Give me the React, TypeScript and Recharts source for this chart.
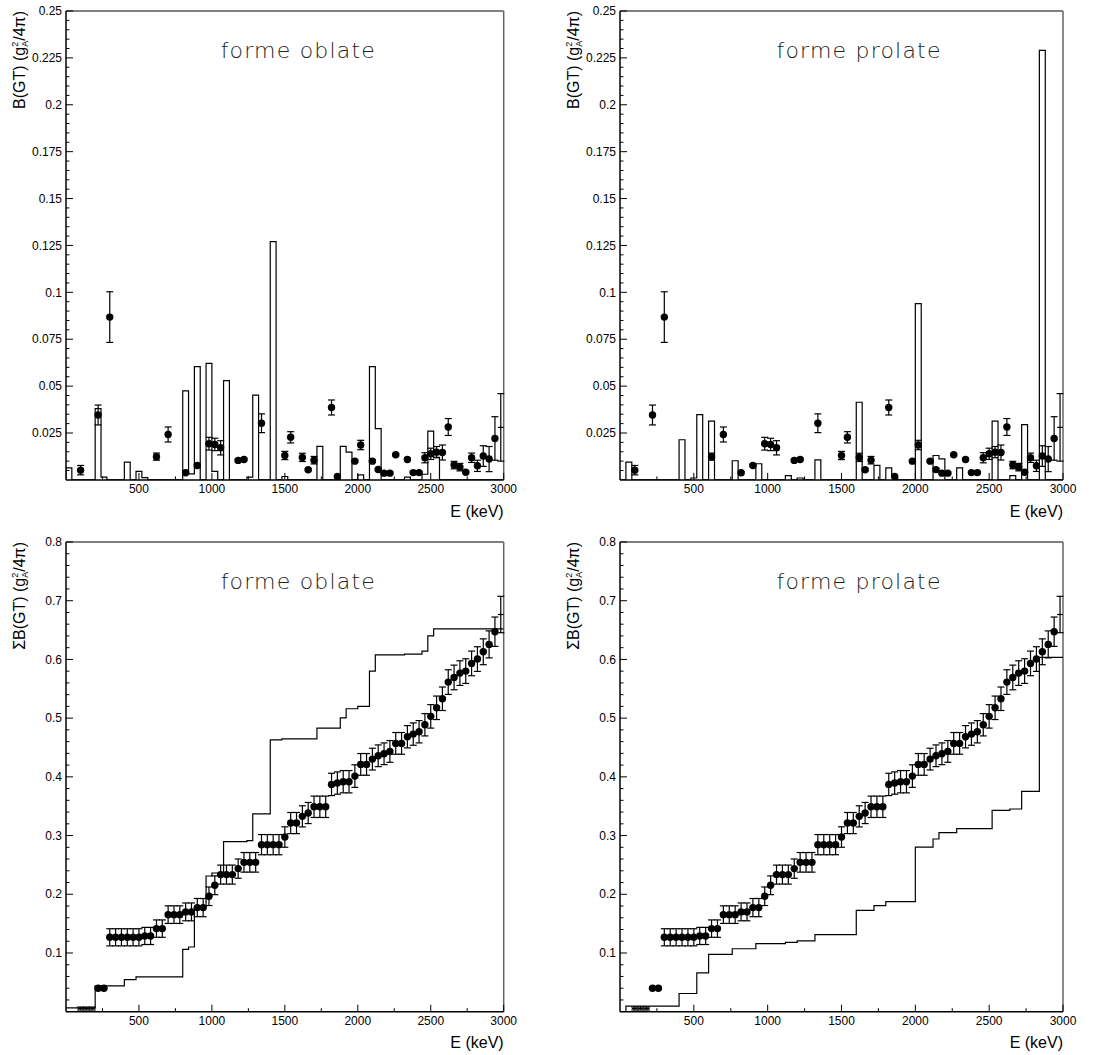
import React from "react";
import {
  ComposedChart, Line, Scatter, ErrorBar, XAxis, YAxis, ReferenceLine,
} from "recharts";

// measured B(GT), 40 keV bins, bin centre in keV
const expE = [100, 220, 300, 620, 700, 820, 900, 980, 1020, 1060, 1180, 1220, 1340, 1500, 1540, 1620, 1660, 1700, 1820, 1860, 1980, 2020, 2100, 2140, 2180, 2220, 2260, 2340, 2380, 2420, 2460, 2500, 2540, 2580, 2620, 2660, 2700, 2740, 2780, 2820, 2860, 2900, 2940, 2980];
const expB = [0.0052, 0.0346, 0.0868, 0.0124, 0.0242, 0.0038, 0.0077, 0.0193, 0.0189, 0.0171, 0.0104, 0.0109, 0.0302, 0.013, 0.0227, 0.012, 0.0054, 0.0105, 0.0386, 0.0018, 0.01, 0.0186, 0.01, 0.0055, 0.0036, 0.0036, 0.0134, 0.0109, 0.0039, 0.0039, 0.0118, 0.0139, 0.0148, 0.0146, 0.0282, 0.0079, 0.0068, 0.0041, 0.0118, 0.0075, 0.0127, 0.0111, 0.0221, 0.028];
const expErr = [0.0025, 0.0053, 0.0135, 0.0019, 0.004, 0.0005, 0.0006, 0.0034, 0.0033, 0.0038, 0.0006, 0.0006, 0.005, 0.0022, 0.003, 0.0022, 0.0006, 0.002, 0.004, 0.0005, 0.0006, 0.0025, 0.0006, 0.0006, 0.0006, 0.0006, 0.0006, 0.0006, 0.0006, 0.0006, 0.0027, 0.003, 0.003, 0.004, 0.0045, 0.002, 0.002, 0.0006, 0.0025, 0.003, 0.0055, 0.0067, 0.0116, 0.018];
const expNoMarker = [2980];

// measured running sum
const cumE = [100, 140, 180, 220, 260, 300, 340, 380, 420, 460, 500, 540, 580, 620, 660, 700, 740, 780, 820, 860, 900, 940, 980, 1020, 1060, 1100, 1140, 1180, 1220, 1260, 1300, 1340, 1380, 1420, 1460, 1500, 1540, 1580, 1620, 1660, 1700, 1740, 1780, 1820, 1860, 1900, 1940, 1980, 2020, 2060, 2100, 2140, 2180, 2220, 2260, 2300, 2340, 2380, 2420, 2460, 2500, 2540, 2580, 2620, 2660, 2700, 2740, 2780, 2820, 2860, 2900, 2940, 2980];
const cumB = [0.0054, 0.0054, 0.0054, 0.04, 0.04, 0.1267, 0.1267, 0.1267, 0.1267, 0.1267, 0.1267, 0.129, 0.129, 0.1415, 0.1415, 0.1653, 0.1653, 0.1653, 0.17, 0.17, 0.1773, 0.1773, 0.1966, 0.2153, 0.2335, 0.2335, 0.2335, 0.2437, 0.2544, 0.2544, 0.2544, 0.2845, 0.2845, 0.2845, 0.2845, 0.2975, 0.3213, 0.3213, 0.3327, 0.3384, 0.349, 0.349, 0.349, 0.3871, 0.3894, 0.3917, 0.3917, 0.4013, 0.4212, 0.4212, 0.4302, 0.4359, 0.4393, 0.4433, 0.457, 0.457, 0.4683, 0.4728, 0.4768, 0.4887, 0.503, 0.5176, 0.533, 0.5614, 0.5693, 0.5767, 0.5801, 0.5932, 0.6006, 0.613, 0.6256, 0.6472, 0.6765];
const cumErr = [0.0025, 0.0025, 0.0025, 0.0015, 0.0015, 0.0146, 0.0146, 0.0146, 0.0146, 0.0146, 0.0146, 0.0146, 0.0146, 0.0148, 0.0148, 0.015, 0.015, 0.015, 0.0152, 0.0152, 0.0155, 0.0155, 0.0158, 0.016, 0.0162, 0.0162, 0.0162, 0.0164, 0.0167, 0.0167, 0.0167, 0.0172, 0.0172, 0.0172, 0.0172, 0.0174, 0.018, 0.018, 0.018, 0.018, 0.0182, 0.0182, 0.0182, 0.019, 0.019, 0.019, 0.019, 0.0192, 0.0185, 0.0185, 0.0185, 0.0185, 0.0185, 0.0185, 0.0185, 0.0185, 0.019, 0.019, 0.019, 0.019, 0.02, 0.02, 0.02, 0.021, 0.021, 0.021, 0.021, 0.021, 0.021, 0.022, 0.023, 0.025, 0.031];
const cumNoMarker = [100, 140, 180, 2980];

// theory, 40 keV bins (lower edge, keV)
const binWidth = 40;
const oblateBinLo = [0, 200, 240, 400, 480, 520, 800, 840, 880, 960, 1000, 1080, 1240, 1280, 1400, 1480, 1720, 1880, 1920, 2000, 2080, 2120, 2320, 2440, 2480, 2520];
const oblateBinB = [0.0064, 0.038, 0.0015, 0.0095, 0.0045, 0.0012, 0.0475, 0.0032, 0.0604, 0.0621, 0.0045, 0.0529, 0.0015, 0.0452, 0.127, 0.0018, 0.0179, 0.0179, 0.0148, 0.0027, 0.0604, 0.0273, 0.0015, 0.003, 0.026, 0.012];
const prolateBinLo = [40, 400, 480, 520, 600, 760, 920, 1120, 1200, 1320, 1600, 1720, 1800, 1840, 2000, 2120, 2160, 2280, 2520, 2640, 2720, 2840];
const prolateBinB = [0.0095, 0.0214, 0.001, 0.0348, 0.0313, 0.0102, 0.0086, 0.0023, 0.001, 0.0107, 0.0414, 0.0077, 0.0064, 0.0014, 0.094, 0.013, 0.0112, 0.0064, 0.0313, 0.0023, 0.0295, 0.229];

// theory running sum (step starts, keV)
const oblateSumE = [0, 200, 400, 480, 800, 840, 880, 960, 1000, 1080, 1240, 1280, 1400, 1480, 1720, 1880, 1920, 2000, 2080, 2120, 2320, 2440, 2480, 2520, 3000];
const oblateSumB = [0.0065, 0.044, 0.0545, 0.0592, 0.1062, 0.1102, 0.1767, 0.2311, 0.2362, 0.2897, 0.2912, 0.3368, 0.4631, 0.4648, 0.483, 0.5006, 0.516, 0.52, 0.58, 0.6078, 0.609, 0.614, 0.64, 0.652, 0.652];
const prolateSumE = [0, 40, 400, 520, 600, 760, 920, 1120, 1200, 1320, 1600, 1720, 1800, 2000, 2120, 2160, 2280, 2520, 2640, 2720, 2840, 3000];
const prolateSumB = [0, 0.0095, 0.031, 0.066, 0.0975, 0.1072, 0.116, 0.1182, 0.1205, 0.1312, 0.1726, 0.1806, 0.1874, 0.2804, 0.2941, 0.3049, 0.3117, 0.343, 0.3452, 0.3752, 0.6034, 0.6034];

// axes
const xMajor = [500, 1000, 1500, 2000, 2500, 3000];
const xLabels = ["500", "1000", "1500", "2000", "2500", "3000"];
const yTopMajor = [0.025, 0.05, 0.075, 0.1, 0.125, 0.15, 0.175, 0.2, 0.225, 0.25];
const yTopLabels = ["0.025", "0.05", "0.075", "0.1", "0.125", "0.15", "0.175", "0.2", "0.225", "0.25"];
const yBotMajor = [0.1, 0.2, 0.3, 0.4, 0.5, 0.6, 0.7, 0.8];
const yBotLabels = ["0.1", "0.2", "0.3", "0.4", "0.5", "0.6", "0.7", "0.8"];

const FONT = "'Liberation Sans', Arial, sans-serif";

// split each major interval (starting at 0) into n minor steps
function withMinors(majors: number[], n: number) {
  const out: number[] = [];
  let prev = 0;
  majors.forEach(m => {
    for (let k = 1; k <= n; k++) out.push(prev + ((m - prev) * k) / n);
    prev = m;
  });
  return out;
}

function histOutline(lo: number[], val: number[]) {
  const pts = [{ e: 0, v: 0 }];
  lo.forEach((l, i) => {
    pts.push({ e: l, v: val[i] });
    if (lo[i + 1] !== l + binWidth) pts.push({ e: l + binWidth, v: 0 });
  });
  pts.push({ e: 3000, v: 0 });
  return pts;
}

const stepLine = (es: number[], vs: number[]) => es.map((e, i) => ({ e, v: vs[i] }));

const pointRows = (es: number[], vs: number[], errs: number[], hidden: number[]) =>
  es.map((e, i) => ({ e, v: vs[i], err: errs[i], xerr: binWidth / 2, hide: hidden.includes(e) }));

const isMajor = (majors: number[], v: number) => majors.findIndex(m => Math.abs(m - v) < 1e-6);

const Dot = (p: any) =>
  p.payload && p.payload.hide ? <g /> : <circle cx={p.cx} cy={p.cy} r={3.7} fill="#000" />;

const ML = 65, MT = 15, MR = 15, MB = 20, XH = 30;
const TICK_M = 5;

function Panel(props: {
  x: number; y: number; pw: number; ph: number;
  yMax: number; yMajor: number[]; yLabels: string[]; yMinorN: number;
  title: string; sigma: boolean;
  hist?: { e: number; v: number }[];
  sum?: { e: number; v: number }[];
  points: any[];
}) {
  const { x, y, pw, ph, yMax, yMajor, yLabels, yMinorN, title, sigma, hist, sum, points } = props;
  const W = ML + pw + MR;
  const H = MT + ph + XH + MB;
  const xTicks = withMinors(xMajor, 2);
  const yTicks = withMinors(yMajor, yMinorN);

  const XTick = (p: any) => {
    const i = isMajor(xMajor, p.payload.value);
    const ay = p.y - TICK_M;
    return (
      <g>
        <line x1={p.x} x2={p.x} y1={ay} y2={ay - (i >= 0 ? 7 : 3.5)} stroke="#000" strokeWidth={1} />
        {i >= 0 && (
          <text x={p.x} y={ay + 13.6} textAnchor="middle" fontSize={12} fontFamily={FONT} fill="#000">
            {xLabels[i]}
          </text>
        )}
      </g>
    );
  };
  const YTick = (p: any) => {
    const i = isMajor(yMajor, p.payload.value);
    const ax = p.x + TICK_M;
    return (
      <g>
        <line x1={ax} x2={ax + (i >= 0 ? 7 : 3.5)} y1={p.y} y2={p.y} stroke="#000" strokeWidth={1} />
        {i >= 0 && (
          <text x={ax - 4} y={p.y} dy="0.35em" textAnchor="end" fontSize={12} fontFamily={FONT} fill="#000">
            {yLabels[i]}
          </text>
        )}
      </g>
    );
  };

  return (
    <div style={{ position: "absolute", left: x - ML, top: y - MT, width: W, height: H }}>
      <ComposedChart width={W} height={H} margin={{ top: MT, right: MR, bottom: MB, left: 5 }}>
        <XAxis type="number" dataKey="e" domain={[0, 3000]} allowDataOverflow ticks={xTicks} interval={0}
          height={XH} tickSize={0} tickMargin={TICK_M} tickLine={false} tick={XTick}
          axisLine={{ stroke: "#000", strokeWidth: 1.5 }} />
        <YAxis type="number" domain={[0, yMax]} allowDataOverflow ticks={yTicks} interval={0}
          width={60} tickSize={0} tickMargin={TICK_M} tickLine={false} tick={YTick}
          axisLine={{ stroke: "#000", strokeWidth: 1.5 }} />
        <ReferenceLine y={yMax} stroke="#000" strokeWidth={1} />
        <ReferenceLine x={3000} stroke="#666" strokeWidth={1.5} />
        {hist && (
          <Line data={hist} dataKey="v" type="stepAfter" stroke="#000" strokeWidth={1.2}
            dot={false} activeDot={false} isAnimationActive={false} />
        )}
        {sum && (
          <Line data={sum} dataKey="v" type="stepAfter" stroke="#000" strokeWidth={1.2}
            dot={false} activeDot={false} isAnimationActive={false} />
        )}
        <Scatter data={points} dataKey="v" shape={Dot} isAnimationActive={false}>
          <ErrorBar dataKey="err" direction="y" width={3.5} stroke="#000" strokeWidth={1.2} isAnimationActive={false} />
          <ErrorBar dataKey="xerr" direction="x" width={0} stroke="#000" strokeWidth={1.2} isAnimationActive={false} />
        </Scatter>
      </ComposedChart>
      <svg width={W} height={H} style={{ position: "absolute", left: 0, top: 0, pointerEvents: "none" }}>
        <text x={ML + (pw * 1060) / 3000} y={MT + 46.5} fontSize={22} fontWeight={200} letterSpacing={1.2}
          fontFamily="'DejaVu Sans', sans-serif" fill="#222">{title}</text>
        <g transform={`translate(${ML - 41}, ${MT}) rotate(-90)`}>
          <text x={0} y={0} textAnchor="end" fontSize={16} fontFamily={FONT} fill="#000">
            <tspan>{sigma ? "\u03A3B(GT) (g" : "B(GT) (g"}</tspan>
            <tspan fontSize={9} dy={-7}>2</tspan>
            <tspan fontSize={9} dx={-5} dy={10}>A</tspan>
            <tspan dy={-3}>/4π)</tspan>
          </text>
        </g>
        <text x={ML + pw} y={MT + ph + 36.6} textAnchor="end" fontSize={16} fontFamily={FONT} fill="#000">
          E (keV)
        </text>
      </svg>
    </div>
  );
}

export default function App() {
  const expPts = pointRows(expE, expB, expErr, expNoMarker);
  const cumPts = pointRows(cumE, cumB, cumErr, cumNoMarker);
  return (
    <div style={{ position: "absolute", left: 0, top: 0, width: 1114, height: 1055, background: "#fff" }}>
      <Panel x={65.6} y={10.5} pw={437.7} ph={468.9} yMax={0.25} yMajor={yTopMajor} yLabels={yTopLabels}
        yMinorN={5} title="forme oblate" sigma={false} hist={histOutline(oblateBinLo, oblateBinB)} points={expPts} />
      <Panel x={620.3} y={10.5} pw={443} ph={468.9} yMax={0.25} yMajor={yTopMajor} yLabels={yTopLabels}
        yMinorN={5} title="forme prolate" sigma={false} hist={histOutline(prolateBinLo, prolateBinB)} points={expPts} />
      <Panel x={65.6} y={541.7} pw={437.7} ph={469.7} yMax={0.8} yMajor={yBotMajor} yLabels={yBotLabels}
        yMinorN={5} title="forme oblate" sigma={true} sum={stepLine(oblateSumE, oblateSumB)} points={cumPts} />
      <Panel x={620.3} y={541.7} pw={443} ph={469.7} yMax={0.8} yMajor={yBotMajor} yLabels={yBotLabels}
        yMinorN={5} title="forme prolate" sigma={true} sum={stepLine(prolateSumE, prolateSumB)} points={cumPts} />
    </div>
  );
}
